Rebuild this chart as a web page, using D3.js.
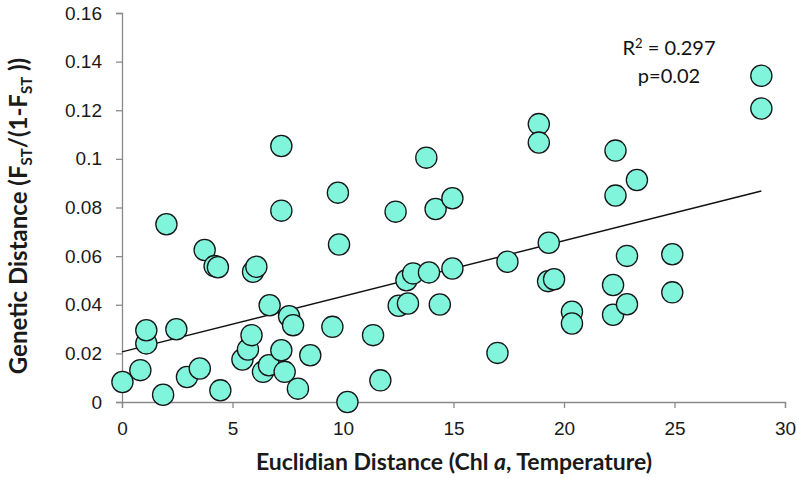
<!DOCTYPE html>
<html>
<head>
<meta charset="utf-8">
<script src="https://cdn.jsdelivr.net/npm/d3@7"></script>
<style>
  body { margin: 0; background: #fff; }
  svg { font-family: Lato, "Open Sans", sans-serif; }
  .axis path, .axis line { stroke: #8a8a8a; stroke-width: 1.3; }
  .axis text { font-size: 19px; fill: #1a1a1a; }
</style>
</head>
<body>
<svg class="scatter"></svg>
<script>
// values
var distX = [0.02, 0.83, 1.10, 1.10, 1.86, 2.01, 2.46, 2.94, 3.52, 3.74,
             4.19, 4.34, 4.45, 5.45, 5.70, 5.86, 5.93, 6.08, 6.38, 6.65,
             6.68, 7.21, 7.21, 7.21, 7.36, 7.56, 7.74, 7.96, 8.52, 9.52,
             9.77, 9.82, 10.20, 11.36, 11.69, 12.38, 12.52, 12.87, 12.94, 13.17,
             13.77, 13.89, 14.19, 14.38, 14.95, 14.95, 16.99, 17.44, 18.86, 18.86,
             19.31, 19.28, 19.55, 20.36, 20.36, 22.22, 22.22, 22.33, 22.33, 22.85,
             22.85, 23.30, 24.90, 24.90, 28.93, 28.93];
var genDist = [0.0082, 0.0131, 0.0241, 0.0295, 0.0030, 0.0731, 0.0299, 0.0103, 0.0138, 0.0625,
               0.0559, 0.0554, 0.0048, 0.0175, 0.0216, 0.0275, 0.0536, 0.0556, 0.0124, 0.0151,
               0.0398, 0.1053, 0.0787, 0.0213, 0.0124, 0.0353, 0.0316, 0.0055, 0.0192, 0.0309,
               0.0861, 0.0648, 0.0000, 0.0275, 0.0089, 0.0783, 0.0396, 0.0501, 0.0405, 0.0529,
               0.1005, 0.0533, 0.0794, 0.0401, 0.0838, 0.0549, 0.0202, 0.0577, 0.1143, 0.1067,
               0.0655, 0.0497, 0.0505, 0.0371, 0.0323, 0.0481, 0.0359, 0.1034, 0.0849, 0.0601,
               0.0402, 0.0913, 0.0608, 0.0451, 0.1342, 0.1207];
var trendX = [0, 28.93];
var trendY = [0.0206, 0.0868];
var xTicks = [0, 5, 10, 15, 20, 25, 30];
var yTicks = [0, 0.02, 0.04, 0.06, 0.08, 0.1, 0.12, 0.14, 0.16];
var rSquared = "0.297", pValue = "0.02";

var margin = {top: 13, right: 11, bottom: 76, left: 122},
    width = 796 - margin.left - margin.right,
    height = 478 - margin.top - margin.bottom;

var x = d3.scaleLinear().domain([0, 30]).range([0, width]),
    y = d3.scaleLinear().domain([0, 0.16]).range([height, 0]);

var svg = d3.select(".scatter")
    .attr("width", 796)
    .attr("height", 478);

var chart = svg.append("g")
    .attr("transform", "translate(" + margin.left + "," + margin.top + ")");

// axes
chart.append("g")
    .attr("class", "axis")
    .attr("transform", "translate(0," + height + ")")
    .call(d3.axisBottom(x).tickValues(xTicks).tickSizeOuter(0).tickSize(6).tickPadding(14));

chart.append("g")
    .attr("class", "axis")
    .call(d3.axisLeft(y).tickValues(yTicks).tickSizeOuter(0).tickSize(6).tickPadding(14)
        .tickFormat(function(d) { return String(+d.toFixed(2)); }));

// trend line
var pts = trendX.map(function(d, i) { return [d, trendY[i]]; });
chart.append("path")
    .datum(pts)
    .attr("fill", "none")
    .attr("stroke", "#111")
    .attr("stroke-width", 1.4)
    .attr("d", d3.line().x(function(d) { return x(d[0]); }).y(function(d) { return y(d[1]); }));

// the dots
chart.selectAll("circle")
    .data(distX)
  .enter().append("circle")
    .attr("cx", function(d) { return x(d); })
    .attr("cy", function(d, i) { return y(genDist[i]); })
    .attr("r", 10.6)
    .attr("fill", "#80f5dc")
    .attr("stroke", "#151515")
    .attr("stroke-width", 1.3);

// R2 and p
var r2 = svg.append("text")
    .attr("x", 669)
    .attr("y", 55)
    .style("text-anchor", "middle")
    .style("font-size", "20px")
    .attr("fill", "#111");
r2.append("tspan").text("R");
r2.append("tspan").attr("dy", -7).style("font-size", "13px").text("2");
r2.append("tspan").attr("dy", 7).text(" = " + rSquared);

svg.append("text")
    .attr("x", 669)
    .attr("y", 83)
    .style("text-anchor", "middle")
    .style("font-size", "20px")
    .attr("fill", "#111")
    .text("p=" + pValue);

// x title
var xt = svg.append("text")
    .attr("x", 454)
    .attr("y", 470)
    .style("text-anchor", "middle")
    .style("font-size", "23px")
    .style("font-weight", "bold")
    .attr("fill", "#1a1a1a");
xt.append("tspan").text("Euclidian Distance (Chl ");
xt.append("tspan").style("font-style", "italic").text("a");
xt.append("tspan").text(", Temperature)");

// y title
var yt = svg.append("text")
    .attr("transform", "translate(27,216) rotate(-90)")
    .style("text-anchor", "middle")
    .style("font-size", "24px")
    .style("font-weight", "bold")
    .attr("fill", "#1a1a1a");
yt.append("tspan").text("Genetic Distance (F");
yt.append("tspan").attr("dy", 5).style("font-size", "15px").text("ST");
yt.append("tspan").attr("dy", -5).text("/(1-F");
yt.append("tspan").attr("dy", 5).style("font-size", "15px").text("ST");
yt.append("tspan").attr("dy", -5).text(" ))");
</script>
</body>
</html>
